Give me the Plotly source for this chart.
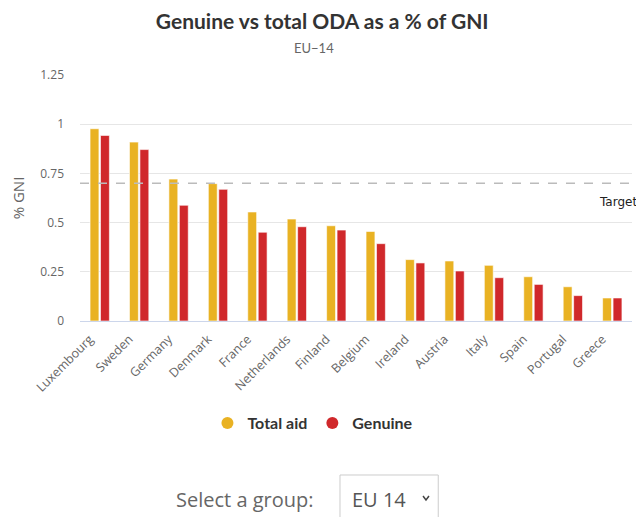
import plotly.graph_objects as go

countries = ["Luxembourg", "Sweden", "Germany", "Denmark", "France", "Netherlands",
             "Finland", "Belgium", "Ireland", "Austria", "Italy", "Spain", "Portugal", "Greece"]
total_aid = [0.977, 0.909, 0.721, 0.698, 0.554, 0.518, 0.484, 0.455, 0.312, 0.305,
             0.283, 0.225, 0.174, 0.117]
genuine = [0.943, 0.871, 0.588, 0.669, 0.451, 0.479, 0.462, 0.393, 0.295, 0.254,
           0.220, 0.186, 0.129, 0.117]
target = 0.7
y_ticks = [0, 0.25, 0.5, 0.75, 1, 1.25]
y_ticktext = ["0", "0.25", "0.5", "0.75", "1", "1.25"]

GOLD = "#E9B223"
RED = "#D0282B"

fig = go.Figure()
fig.add_trace(go.Bar(x=countries, y=total_aid, name="Total aid", marker_color=GOLD,
                     marker_line=dict(color="rgba(255,255,255,0.6)", width=1), showlegend=False))
fig.add_trace(go.Bar(x=countries, y=genuine, name="Genuine", marker_color=RED,
                     marker_line=dict(color="rgba(255,255,255,0.6)", width=1), showlegend=False))
# legend entries with round symbols
fig.add_trace(go.Scatter(x=[None], y=[None], mode="markers", name="<b>Total aid</b>",
                         marker=dict(color=GOLD, size=14, symbol="circle")))
fig.add_trace(go.Scatter(x=[None], y=[None], mode="markers", name="<b>Genuine</b>",
                         marker=dict(color=RED, size=14, symbol="circle")))

# target line
fig.add_shape(type="line", xref="paper", x0=0, x1=1, yref="y", y0=target, y1=target,
              line=dict(color="#bbbbbb", width=1.5, dash="dash"), layer="above")
fig.add_annotation(text="Target", xref="paper", x=0.937, xanchor="left", yref="y", y=target,
                   yshift=-19, showarrow=False, font=dict(family="DejaVu Sans", size=12, color="#222"))

# dropdown imitation
fig.add_annotation(text="Select a group:", xref="paper", yref="paper", x=0.4275, xanchor="right",
                   y=-0.725, yanchor="middle", showarrow=False,
                   font=dict(family="Open Sans", size=20, color="#666"))
fig.add_shape(type="rect", xref="paper", yref="paper", x0=0.471, x1=0.649, y0=-0.83, y1=-0.626,
              line=dict(color="#cccccc", width=1), fillcolor="white")
fig.add_annotation(text="EU 14", xref="paper", yref="paper", x=0.541, xanchor="center",
                   y=-0.725, yanchor="middle", showarrow=False,
                   font=dict(family="Open Sans", size=20, color="#555"))
fig.add_shape(type="path", xref="paper", yref="paper",
              path="M 0.6214,-0.7114 L 0.6268,-0.7276 L 0.6322,-0.7114",
              line=dict(color="#444", width=1.5))

fig.update_layout(
    width=636, height=509,
    margin=dict(l=72, r=12, t=67, b=196, autoexpand=False),
    paper_bgcolor="white", plot_bgcolor="white",
    barmode="group", bargap=0.47, bargroupgap=0.15,
    title=dict(text="<b>Genuine vs total ODA as a % of GNI</b>", x=0.494, xanchor="center",
               y=0.9725, yanchor="middle", font=dict(family="Lato", size=21, color="#333")),
    font=dict(family="Open Sans", size=12, color="#666"),
    showlegend=True,
    legend=dict(orientation="h", x=0.422, xanchor="center", y=-0.415, yanchor="middle",
                font=dict(family="Lato", size=16, color="#333"), itemsizing="constant",
                traceorder="normal"),
)
fig.add_annotation(text="EU−14", xref="paper", yref="paper", x=0.424, xanchor="center",
                   y=1.11, yanchor="middle", showarrow=False,
                   font=dict(family="Lato", size=13, color="#666"))

fig.update_xaxes(tickangle=-45, showline=True, linecolor="#ccd6eb", linewidth=1,
                 ticks="", tickfont=dict(family="Open Sans", size=12.5, color="#666"),
                 showgrid=False, automargin=False, ticklabelstandoff=5, ticklabelshift=-10)
fig.update_yaxes(range=[0, 1.25], tickvals=y_ticks, ticktext=y_ticktext,
                 gridcolor="#e6e6e6", gridwidth=1, zeroline=False,
                 tickfont=dict(family="Open Sans", size=12, color="#666"),
                 ticklabelstandoff=15, automargin=False,
                 title=dict(text="% GNI", font=dict(family="Open Sans", size=15, color="#666"),
                            standoff=14))

fig.write_html("out.html")
